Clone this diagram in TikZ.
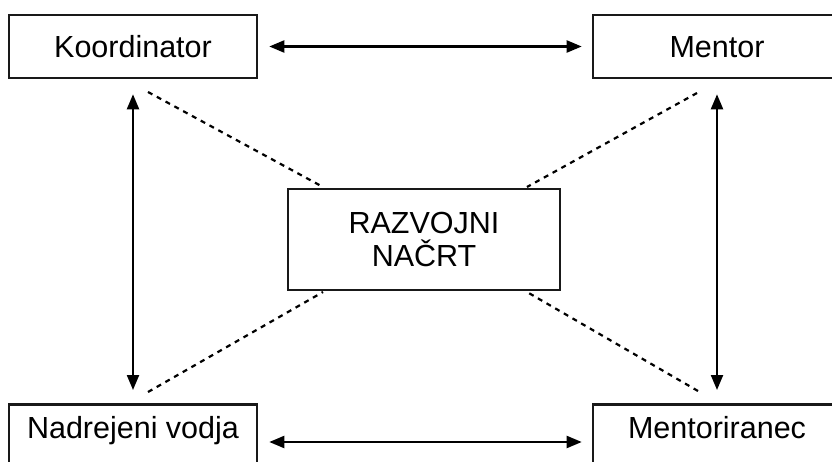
\documentclass[tikz,border=0pt]{standalone}
\usepackage{fontspec}
\setmainfont{Liberation Sans}
\usetikzlibrary{arrows.meta,calc}
\begin{document}
\begin{tikzpicture}[x=1pt,y=-1pt,
  box/.style={draw=black!90,line width=2.6pt,minimum width=248pt,minimum height=63pt,inner sep=0pt,
    text height=22pt,text depth=0pt,font=\fontsize{30.5}{33}\selectfont},
  lowbox/.style={box,anchor=north,minimum height=80pt,text depth=34pt},
  centerbox/.style={draw=black!90,line width=2.6pt,minimum width=272pt,minimum height=101pt,inner sep=0pt,
    align=center,font=\fontsize{30.5}{33}\selectfont},
  link/.style={line width=2.2pt,{Triangle[length=15pt,width=12pt]}-{Triangle[length=15pt,width=12pt]}},
  dots/.style={line width=2.2pt,dash pattern=on 5pt off 5pt}]
\useasboundingbox (0,0) rectangle (832,462);
\clip (0,0) rectangle (832,462);
\node[box] (ko) at (133,46.5) {Koordinator};
\node[box] (me) at (717,46.5) {Mentor};
\node[lowbox] (nv) at (133,403) {Nadrejeni vodja};
\node[lowbox] (mr) at (717,403) {Mentoriranec};
\node[centerbox] (rn) at (424,239.5) {RAZVOJNI\\NA\v{C}RT};
% arrows
\draw[link,shorten <=11pt,shorten >=10pt] (ko.east) -- (me.west);
\draw[link,shorten <=11pt,shorten >=10pt] (nv.east |- 0,442) coordinate (nve) -- (mr.west |- 0,442) coordinate (mrw);
\draw[link,shorten <=15pt,shorten >=13pt] (ko.south) -- (nv.north);
\draw[link,shorten <=15pt,shorten >=13pt] (me.south) -- (mr.north);
% dashed
\coordinate (a1) at (148,92);
\coordinate (a2) at (697,93);
\coordinate (a3) at (148,392);
\coordinate (a4) at (698,391);
\coordinate (b1) at (323,187);
\coordinate (b2) at (527,187);
\coordinate (b3) at (323,292);
\coordinate (b4) at (527,292);
\draw[dots] (a1) -- (b1);
\draw[dots] (a2) -- (b2);
\draw[dots] (a3) -- (b3);
\draw[dots] (a4) -- (b4);
\end{tikzpicture}
\end{document}
